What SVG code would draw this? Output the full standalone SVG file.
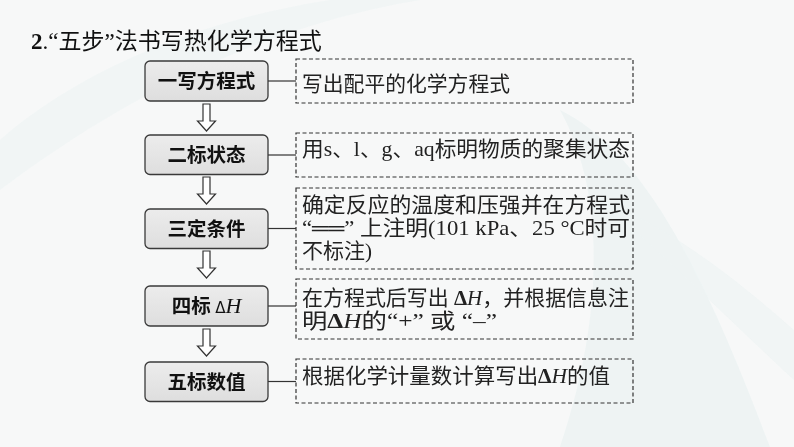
<svg xmlns="http://www.w3.org/2000/svg" width="794" height="447" viewBox="0 0 794 447">
<defs>
<linearGradient id="g" x1="0" y1="0" x2="0" y2="1">
<stop offset="0" stop-color="#ececec"/>
<stop offset="1" stop-color="#dedede"/>
</linearGradient>
<style>
.step{fill:url(#g);stroke:#3a3a3a;stroke-width:1.3}
.note{fill:none;stroke:#333;stroke-width:1.2;stroke-dasharray:4 2.5}
.st{font-family:"Noto Sans CJK SC",sans-serif;font-weight:bold;font-size:19.5px;fill:#111;text-anchor:middle}
.nt{font-family:"Liberation Serif","Noto Sans CJK SC",serif;font-size:21px;fill:#222}
.ln{stroke:#333;stroke-width:1.2;fill:none}
.ar{stroke:#333;stroke-width:1.2;fill:#fff}
.bg{fill:#dcecec}
</style>
</defs>
<rect width="794" height="447" fill="#f7f8f8"/>
<g id="background" opacity="0.35">
<path class="bg" d="M0,140 C80,70 200,20 330,0 L420,0 C300,20 160,70 0,190 Z" opacity="0.6"/>
<path class="bg" d="M560,110 C640,150 700,260 770,447 L560,447 C600,330 610,200 560,110 Z"/>
<path class="bg" d="M600,200 C680,230 760,300 794,330 L794,380 C740,330 680,270 600,200 Z" opacity="0.7"/>
</g>
<g id="title">
<text x="31" y="49" font-size="23" fill="#111"><tspan font-family="Liberation Serif,serif" font-weight="bold">2</tspan><tspan font-family="Liberation Serif,serif">.“</tspan><tspan font-family="Noto Sans CJK SC,sans-serif">五步</tspan><tspan font-family="Liberation Serif,serif">”</tspan><tspan font-family="Noto Sans CJK SC,sans-serif">法书写热化学方程式</tspan></text>
</g>
<g id="connectors">
<line class="ln" x1="268" y1="81" x2="296" y2="81"/>
<line class="ln" x1="268" y1="155" x2="296" y2="155"/>
<line class="ln" x1="268" y1="228.5" x2="296" y2="228.5"/>
<line class="ln" x1="268" y1="306" x2="296" y2="306"/>
<line class="ln" x1="268" y1="381.5" x2="296" y2="381.5"/>
<path class="ar" d="M203,104 H210 V121 H215.5 L206.5,131 L197.5,121 H203 Z"/>
<path class="ar" d="M203,177 H210 V194 H215.5 L206.5,204 L197.5,194 H203 Z"/>
<path class="ar" d="M203,251 H210 V268 H215.5 L206.5,278 L197.5,268 H203 Z"/>
<path class="ar" d="M203,329 H210 V346 H215.5 L206.5,356 L197.5,346 H203 Z"/>
</g>
<g id="step1">
<rect class="step" x="145" y="61" width="123" height="40" rx="5"/>
<text class="st" x="206.5" y="88">一写方程式</text>
</g>
<g id="step2">
<rect class="step" x="145" y="135" width="123" height="39.5" rx="5"/>
<text class="st" x="206.5" y="162">二标状态</text>
</g>
<g id="step3">
<rect class="step" x="145" y="209" width="123" height="39.5" rx="5"/>
<text class="st" x="206.5" y="235.5">三定条件</text>
</g>
<g id="step4">
<rect class="step" x="145" y="286" width="123" height="40" rx="5"/>
<text class="st" x="206.5" y="313">四标 <tspan font-family="DejaVu Sans,sans-serif" font-weight="normal" font-size="15">Δ</tspan><tspan font-family="Liberation Serif,serif" font-style="italic" font-weight="normal" font-size="22">H</tspan></text>
</g>
<g id="step5">
<rect class="step" x="145" y="362" width="123" height="39.5" rx="5"/>
<text class="st" x="206.5" y="388.5">五标数值</text>
</g>
<g id="note1">
<rect class="note" x="296" y="59" width="337" height="44"/>
<text class="nt" x="302" y="91" textLength="208" lengthAdjust="spacingAndGlyphs">写出配平的化学方程式</text>
</g>
<g id="note2">
<rect class="note" x="296" y="133" width="337" height="44"/>
<text class="nt" x="302" y="156" textLength="328" lengthAdjust="spacingAndGlyphs">用s、l、g、aq标明物质的聚集状态</text>
</g>
<g id="note3">
<rect class="note" x="296" y="188" width="337" height="81"/>
<text class="nt" x="302" y="212" textLength="328" lengthAdjust="spacingAndGlyphs">确定反应的温度和压强并在方程式</text>
<text class="nt" x="302" y="235" textLength="328" lengthAdjust="spacingAndGlyphs">“══” 上注明(101 kPa、25 °C时可</text>
<text class="nt" x="302" y="258" textLength="70" lengthAdjust="spacingAndGlyphs">不标注)</text>
</g>
<g id="note4">
<rect class="note" x="296" y="279" width="337" height="60"/>
<text class="nt" x="302" y="305" textLength="327" lengthAdjust="spacingAndGlyphs">在方程式后写出 <tspan font-weight="bold">Δ</tspan><tspan font-style="italic">H</tspan>，并根据信息注</text>
<text class="nt" x="302" y="328" textLength="195" lengthAdjust="spacingAndGlyphs">明<tspan font-weight="bold">Δ</tspan><tspan font-style="italic">H</tspan>的“+”  或 “–”</text>
</g>
<g id="note5">
<rect class="note" x="296" y="359" width="337" height="44"/>
<text class="nt" x="302" y="383" textLength="308" lengthAdjust="spacingAndGlyphs">根据化学计量数计算写出<tspan font-weight="bold">Δ</tspan><tspan font-style="italic">H</tspan>的值</text>
</g>
</svg>
